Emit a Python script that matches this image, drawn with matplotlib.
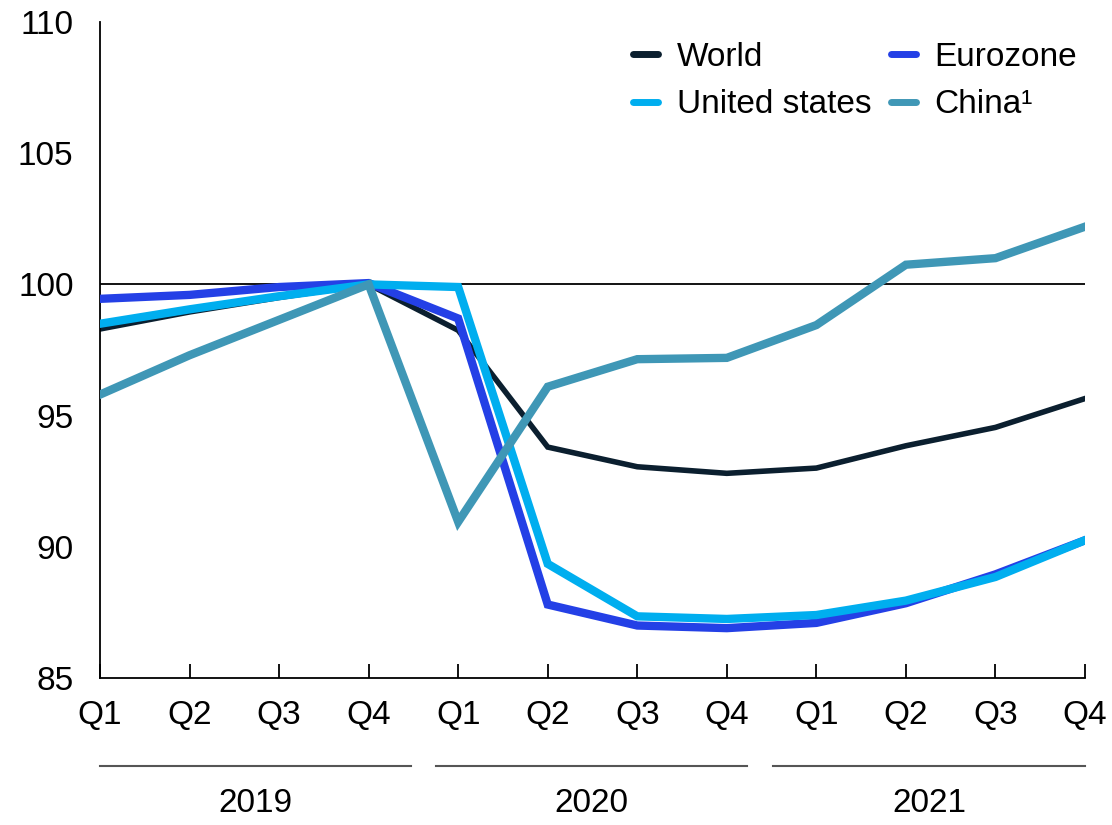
import matplotlib
matplotlib.use("Agg")
import matplotlib.pyplot as plt
from matplotlib.lines import Line2D

plt.rcParams['font.family'] = ['Liberation Sans', 'DejaVu Sans']

quarters = ["Q1", "Q2", "Q3", "Q4"] * 3
years = ["2019", "2020", "2021"]
world = [98.3, 98.95, 99.5, 100.0, 98.25, 93.8, 93.05, 92.8, 93.0, 93.85, 94.55, 95.65]
eurozone = [99.45, 99.6, 99.9, 100.05, 98.7, 87.8, 87.0, 86.9, 87.1, 87.85, 88.95, 90.25]
united_states = [98.5, 99.05, 99.55, 100.0, 99.9, 89.35, 87.35, 87.25, 87.4, 87.95, 88.85, 90.25]
china = [95.8, 97.3, 98.65, 100.0, 90.95, 96.1, 97.15, 97.2, 98.45, 100.75, 101.0, 102.2]

c_world = "#0b1f2f"
c_euro = "#2440e6"
c_us = "#00aeef"
c_china = "#3f97b6"

FS = 24

fig = plt.figure(figsize=(11.12, 8.25), dpi=100)
ax = fig.add_axes([100/1112, 1-678/825, 985/1112, 656/825])

x = list(range(len(quarters)))
ax.axhline(100, color="black", lw=1.3, zorder=1)
ax.plot(x, world, color=c_world, lw=4, zorder=2, solid_joinstyle="miter")
ax.plot(x, eurozone, color=c_euro, lw=6, zorder=3, solid_joinstyle="miter")
ax.plot(x, united_states, color=c_us, lw=6, zorder=4, solid_joinstyle="miter")
ax.plot(x, china, color=c_china, lw=6, zorder=5, solid_joinstyle="miter")

ax.set_xlim(0, 11)
ax.set_ylim(85, 110)
ax.set_yticks([85, 90, 95, 100, 105, 110])
ax.set_xticks(x)
ax.set_xticklabels(quarters)
ax.tick_params(axis="y", length=0, labelsize=FS, pad=19)
ax.tick_params(axis="x", direction="in", length=10, width=1.3, labelsize=FS, pad=16)
for s in ["top", "right"]:
    ax.spines[s].set_visible(False)
for s in ["left", "bottom"]:
    ax.spines[s].set_linewidth(1.3)

# year group lines and labels
spans = [(0.0, 3.47), (3.75, 7.23), (7.52, 11.0)]
trans = ax.get_xaxis_transform()
line_y = (678 - 766) / 656
label_y = (678 - 804) / 656
for (a, b), yr in zip(spans, years):
    ax.add_line(Line2D([a, b], [line_y, line_y], transform=trans, color="#555555",
                       lw=1.5, clip_on=False))
    ax.text((a + b) / 2, label_y, yr, transform=trans, ha="center", va="center",
            fontsize=FS)

handles = [
    Line2D([], [], color=c_world, lw=5, solid_capstyle="round"),
    Line2D([], [], color=c_us, lw=5, solid_capstyle="round"),
    Line2D([], [], color=c_euro, lw=5, solid_capstyle="round"),
    Line2D([], [], color=c_china, lw=5, solid_capstyle="round"),
]
labels = ["World", "United states", "Eurozone", "China¹"]
ax.legend(handles, labels, ncol=2, frameon=False, fontsize=FS, loc="upper right",
          bbox_to_anchor=(0.992, 0.97), borderpad=0, borderaxespad=0,
          handlelength=0.75, handletextpad=0.55,
          columnspacing=0.6, labelspacing=0.5)

fig.savefig("out.png", dpi=100)
